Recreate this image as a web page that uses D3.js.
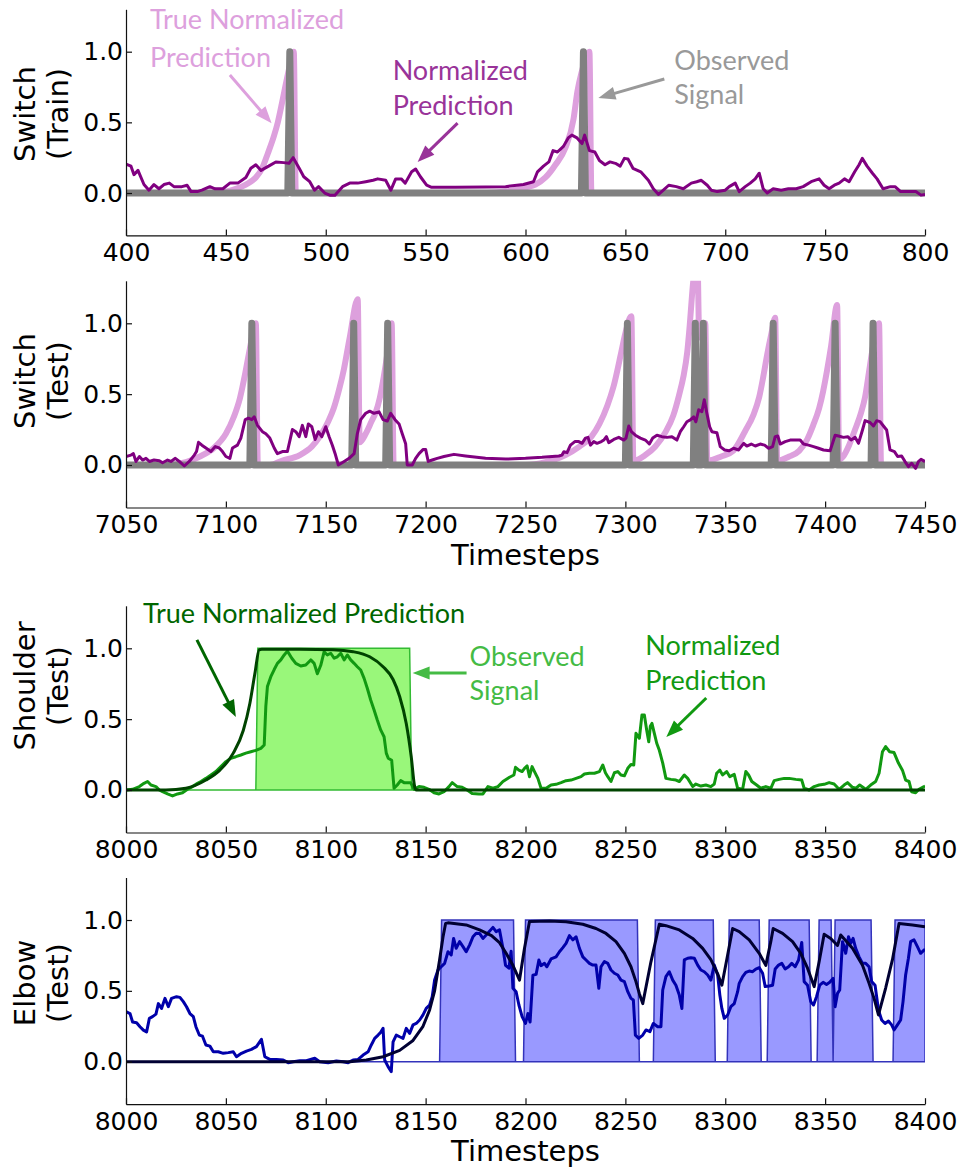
<!DOCTYPE html>
<html lang="en">
<head>
<meta charset="UTF-8">
<title>Switch / Shoulder / Elbow predictions</title>
<script src="https://d3js.org/d3.v7.min.js"></script>
<style>
  body { margin: 0; background: #fff; }
  svg { display: block; }
</style>
</head>
<body>
<svg id="chart" width="963" height="1169"></svg>
<script>
// ---- data ----
const yTicks = [0, 0.5, 1.0];
const trainTicks = [400, 450, 500, 550, 600, 650, 700, 750, 800];
const testTicks = [7050, 7100, 7150, 7200, 7250, 7300, 7350, 7400, 7450];
const armTicks = [8000, 8050, 8100, 8150, 8200, 8250, 8300, 8350, 8400];

// switch: timesteps where the observed signal fires
const trainSpikes = [482, 629];
const testSpikes = [7113, 7164, 7181, 7301, 7335, 7339, 7374, 7405, 7424];

const trainTrue = [[400,0],[440,0],[450,0.01],[455,0.03],[460,0.06],[465,0.11],[468,0.17],[471,0.28],[474,0.4],[476,0.5],[478,0.63],[480,0.77],[482,0.9],[484,1.0],[485,0],
  [580,0],[590,0.01],[600,0.04],[605,0.06],[610,0.11],[615,0.2],[620,0.32],[624,0.52],[626,0.72],[628,0.85],[630,0.94],[632,1.0],[633,0],[800,0]];

const trainPred = [[400,0.205],[402.5,0.19],[404,0.13],[406,0.16],[409,0.06],[411.5,0.02],[414,0.06],[416.5,0.03],[419,0.06],[421.7,0.07],[424,0.045],[428,0.045],[430.6,0.055],[432.6,0.01],[435.7,0.01],[438,0.02],[442,0.045],[444.6,0.03],[448.5,0.03],[452,0.07],[456,0.07],[460,0.11],[462.5,0.175],[465,0.2],[467.6,0.16],[471.4,0.19],[475,0.22],[479,0.215],[481.6,0.21],[483.7,0.25],[486.7,0.175],[489,0.115],[492,0.08],[494.4,0.02],[496.4,0.045],[499.5,0],[502,-0.015],[504.6,-0.015],[508.4,0.045],[512,0.07],[516,0.07],[520,0.08],[523.7,0.09],[526,0.1],[530,0.09],[532.6,0.02],[535,0.1],[537.8,0.1],[539.8,0.07],[543,0.15],[545,0.17],[547.4,0.115],[550.5,0.055],[553,0.04],[565,0.04],[580,0.042],[590,0.045],[599,0.06],[604,0.08],[606,0.15],[609,0.19],[611.7,0.22],[613.8,0.3],[616,0.29],[619,0.33],[621.4,0.39],[623.2,0.41],[625.8,0.39],[628.3,0.35],[629.6,0.41],[632,0.3],[634.7,0.29],[637,0.23],[639.8,0.2],[642.3,0.22],[645,0.21],[647.4,0.19],[649.5,0.245],[651.3,0.24],[653.8,0.175],[657.7,0.15],[661.5,0.09],[664,0.03],[666.6,-0.01],[669,0.02],[671.7,0.055],[675.5,0.045],[679,0.03],[683,0.07],[685.7,0.08],[688,0.09],[691,0.055],[693,0.02],[696,0.01],[700,0.02],[702,0.045],[705,0.07],[707,0.01],[710,0.045],[712.5,0.07],[715,0.1],[717,0.14],[719,0.03],[721,0],[724,0.03],[728,0.02],[731.6,0.03],[735.5,0.03],[739,0.045],[743,0.08],[747,0.1],[749.5,0.055],[752,0.03],[754.6,0.055],[757,0.07],[759.7,0.1],[762,0.08],[764.8,0.15],[767,0.2],[768.6,0.245],[771,0.19],[773.7,0.14],[776,0.1],[779,0.03],[782.7,0.045],[785,0.045],[787.8,0.01],[791.6,0.01],[795.4,0.01],[798,-0.015],[800,-0.01]];

const testTrue = [[7050,0],[7070,0],[7080,0.02],[7087,0.06],[7094,0.12],[7100,0.22],[7104,0.34],[7107,0.47],[7110,0.67],[7112,0.82],[7115,1.0],[7116,0],[7122,0],[7128,0.03],[7137,0.07],[7143,0.13],[7147,0.2],[7151,0.3],[7154,0.4],[7157,0.55],[7159,0.67],[7162,0.9],[7166,1.17],[7167,0.16],[7170,0.22],[7173,0.31],[7175,0.37],[7177,0.47],[7179,0.62],[7181,0.8],[7183,1.0],[7184,0],
  [7250,0],[7260,0.02],[7270,0.07],[7277,0.13],[7283,0.2],[7287,0.29],[7291,0.42],[7294,0.55],[7298,0.8],[7300,0.93],[7303,1.05],[7304,0.03],[7310,0.07],[7315,0.13],[7320,0.23],[7324,0.35],[7327,0.5],[7329,0.62],[7331,0.8],[7332,0.95],[7334,1.3],[7336,1.5],[7337,0.9],[7338,0.93],[7340,1.0],[7341,0.03],
  [7348,0.06],[7354,0.1],[7360,0.24],[7364,0.35],[7367,0.48],[7369,0.62],[7371,0.78],[7373,0.92],[7375,1.04],[7376,0.03],[7382,0.06],[7387,0.1],[7391,0.18],[7394,0.28],[7397,0.4],[7399,0.52],[7401,0.67],[7403,0.84],[7406,1.13],[7407,0.04],[7409,0.06],[7412,0.14],[7415,0.25],[7418,0.37],[7420,0.48],[7422,0.66],[7424,0.84],[7427,1.0],[7428,0],[7450,0]];

const testPred = [[7050,0.06],[7052.5,0.07],[7053.7,0.08],[7055,0.025],[7056.7,0.06],[7058.3,0.035],[7060,0.047],[7061.7,0.025],[7064,0.035],[7066.7,0.03],[7068.3,0.016],[7070.8,0.035],[7072.5,0.025],[7074.7,0.047],[7076.7,0.025],[7079.2,-0.007],[7081.7,0.025],[7084.2,0.07],[7085.3,0.095],[7086.3,0.16],[7088,0.14],[7090,0.12],[7092.5,0.095],[7094.7,0.13],[7096.7,0.12],[7098.3,0.095],[7100,0.06],[7102,0.047],[7103.3,0.12],[7105.8,0.14],[7107.5,0.19],[7109.7,0.32],[7111.3,0.33],[7113,0.32],[7114.2,0.34],[7115.8,0.28],[7118.3,0.235],[7120,0.22],[7122,0.19],[7124.2,0.12],[7125.8,0.08],[7128.3,0.095],[7130.8,0.095],[7133.3,0.25],[7135,0.235],[7136.7,0.2],[7138.3,0.28],[7140,0.2],[7141.3,0.29],[7143,0.27],[7144.7,0.18],[7146.3,0.235],[7148,0.2],[7150,0.27],[7151.7,0.2],[7153.3,0.14],[7154.7,0.08],[7156.3,0],[7159.2,0.025],[7161.7,0.047],[7164.2,0.08],[7165.8,0.22],[7167.5,0.32],[7170,0.365],[7172,0.38],[7174.2,0.365],[7176.7,0.375],[7178.7,0.32],[7180.8,0.31],[7182.5,0.365],[7184.7,0.32],[7186.7,0.29],[7188.3,0.22],[7190,0.15],[7190.8,0],[7193.3,0],[7195,0.047],[7196.7,0.08],[7198.8,0.11],[7200,0.11],[7201.3,0.025],[7203.3,0.035],[7205.8,0.047],[7209.2,0.06],[7214.2,0.075],[7220,0.064],[7230,0.047],[7240,0.042],[7250,0.047],[7258.3,0.054],[7266.7,0.064],[7268.3,0.07],[7269.2,0.094],[7270.8,0.087],[7272.5,0.14],[7274.7,0.165],[7276.7,0.165],[7278.3,0.153],[7280,0.19],[7281.3,0.195],[7282.5,0.14],[7284.2,0.165],[7285.8,0.153],[7288,0.165],[7289.2,0.176],[7290.5,0.2],[7291.7,0.158],[7294.2,0.18],[7296.7,0.195],[7299.2,0.176],[7300.3,0.19],[7301.7,0.275],[7303,0.235],[7305,0.21],[7307.5,0.19],[7310,0.176],[7312,0.148],[7313.7,0.19],[7315.8,0.21],[7318.3,0.2],[7320.8,0.195],[7323.3,0.2],[7325.8,0.176],[7327.5,0.235],[7329.2,0.27],[7330.8,0.305],[7332.5,0.318],[7334.2,0.34],[7335.3,0.305],[7336.7,0.39],[7338.3,0.376],[7339.5,0.46],[7340.8,0.365],[7342.2,0.27],[7343.3,0.235],[7345.8,0.228],[7347.5,0.13],[7349.7,0.106],[7352,0.1],[7354.2,0.118],[7356.7,0.106],[7359.2,0.153],[7360.8,0.134],[7363,0.148],[7365,0.134],[7367.5,0.148],[7369.7,0.14],[7371.7,0.118],[7373.7,0.13],[7375,0.2],[7376.3,0.205],[7377.5,0.148],[7380,0.165],[7382.5,0.176],[7385,0.176],[7387.5,0.176],[7389.2,0.148],[7391.7,0.14],[7394.2,0.13],[7396.7,0.118],[7399.2,0.106],[7402.5,0.1],[7405,0.21],[7406.7,0.205],[7409.2,0.195],[7411.3,0.2],[7413,0.176],[7415,0.195],[7416.7,0.153],[7418.7,0.247],[7420,0.313],[7422.5,0.3],[7424.2,0.275],[7425.8,0.313],[7427.5,0.306],[7429.2,0.275],[7430.8,0.247],[7432.5,0.106],[7434.7,0.094],[7436.3,0.06],[7438.3,0.064],[7440,0.024],[7441.7,-0.012],[7443.3,0.012],[7445.3,-0.024],[7446.7,0.024],[7448,0.04],[7450,0.024]];

// arm joints: [first, last] timestep where the observed signal is 1
const shoulderOn = [[8066, 8142]];
const elbowOn = [[8158,8194],[8200,8256],[8265,8294],[8302,8317],[8322,8342],[8347,8353],[8355,8373],[8385,8400]];

const shoulderTrue = [[8000,0],[8020,0],[8030,0.012],[8040,0.07],[8047,0.14],[8053.7,0.26],[8058.7,0.42],[8062,0.61],[8064.5,0.82],[8066.7,0.99],[8068,0.993],[8087,0.993],[8103.7,0.99],[8113.7,0.976],[8122,0.94],[8128.7,0.87],[8133.7,0.78],[8137,0.66],[8140.3,0.47],[8142.8,0.235],[8144.5,0.024],[8145.3,0],[8400,0]];

const shoulderPred = [[8000,0],[8003.3,0.005],[8006.7,0.024],[8009,0.047],[8010.8,0.06],[8012.5,0.035],[8015,0.024],[8016.7,0],[8018.3,-0.012],[8020.8,-0.028],[8023.3,-0.042],[8025.8,-0.028],[8028.3,-0.019],[8030.8,0.005],[8033.3,0.024],[8035.8,0.047],[8037.5,0.06],[8040,0.082],[8042.5,0.106],[8045,0.13],[8047.5,0.165],[8050,0.2],[8052.5,0.224],[8055,0.235],[8057.5,0.247],[8060,0.26],[8062.5,0.27],[8065,0.28],[8067.5,0.294],[8069.2,0.318],[8070,0.59],[8070.8,0.73],[8072.5,0.8],[8074.2,0.85],[8075.8,0.894],[8077.5,0.918],[8079.2,0.953],[8080.8,0.98],[8083,0.93],[8085,0.894],[8087.5,0.875],[8090,0.882],[8092.5,0.918],[8094.2,0.894],[8095.8,0.82],[8097.5,0.88],[8099.2,0.976],[8100.8,0.953],[8102.5,0.965],[8104.2,0.93],[8105.8,0.94],[8107.5,0.965],[8109.2,0.918],[8110.8,0.953],[8112.5,0.918],[8114.2,0.894],[8115.8,0.87],[8117.5,0.847],[8119.2,0.788],[8120.8,0.718],[8122.5,0.635],[8124.2,0.565],[8125.8,0.494],[8127.5,0.424],[8129.2,0.376],[8130.3,0.26],[8131.3,0.224],[8133,0.21],[8134.2,0.012],[8135.8,0.035],[8137.5,0.066],[8139.2,0.052],[8140.8,0.052],[8142.5,0.052],[8144.2,0.005],[8146.7,0.024],[8149.2,0.019],[8151.7,0.005],[8154.2,-0.019],[8156.7,-0.028],[8159.2,-0.012],[8161.7,0.024],[8163.3,0.052],[8165.8,0.024],[8168.3,0.019],[8170.8,0],[8173.3,-0.024],[8176.7,-0.028],[8178.7,-0.028],[8181.2,0.024],[8183.7,0.012],[8186.2,0.024],[8188.7,0.06],[8192,0.09],[8194.2,0.106],[8195,0.16],[8196.7,0.14],[8198.3,0.13],[8199.5,0.153],[8200.8,0.17],[8202,0.094],[8203.3,0.165],[8204.5,0.13],[8206.2,0.082],[8207.8,0.012],[8210.3,0.012],[8212.8,0.035],[8215.3,0.04],[8217.8,0.052],[8220.3,0.066],[8222.8,0.07],[8225.3,0.082],[8227.8,0.094],[8229.5,0.113],[8232,0.118],[8234.5,0.118],[8237,0.13],[8238.7,0.176],[8240,0.122],[8241.2,0.094],[8242.8,0.06],[8244.5,0.122],[8246.2,0.13],[8247.8,0.106],[8249.5,0.1],[8251.2,0.153],[8252.8,0.18],[8254.2,0.176],[8255.3,0.4],[8257,0.365],[8258.3,0.53],[8259.5,0.53],[8260.7,0.42],[8261.7,0.34],[8262.5,0.45],[8263.3,0.47],[8264.5,0.4],[8265.7,0.33],[8267,0.28],[8268.7,0.19],[8270.3,0.082],[8272.8,0.075],[8275.3,0.07],[8277,0.06],[8279.5,0.106],[8281.2,0.082],[8283.7,0.024],[8285.3,0.042],[8287.8,0.028],[8290.3,0.035],[8292.8,0.024],[8294.5,0.042],[8295.7,0.118],[8297.3,0.14],[8298.7,0.106],[8300.7,0.13],[8302.3,0.094],[8304.5,0.11],[8306.2,0.012],[8308.7,0.005],[8310.3,0.13],[8311.7,0.106],[8313.3,0.06],[8315.7,0.035],[8317.8,0.012],[8320.3,0.024],[8322.8,0.012],[8324.5,0.066],[8327,0.075],[8329.5,0.082],[8332,0.082],[8335.3,0.075],[8338.3,0.07],[8339.5,0.012],[8342,0],[8344.5,0.024],[8347,0.035],[8349.5,0.04],[8352,0.052],[8354.5,0.042],[8357,0.005],[8359.5,0.035],[8361.2,0.052],[8363.7,0.019],[8365.3,0.012],[8367.3,0.035],[8370.3,0.005],[8372.8,0.035],[8375.3,0.06],[8377,0.118],[8378.7,0.27],[8380.3,0.306],[8382.3,0.27],[8384.5,0.264],[8386.7,0.19],[8388.7,0.14],[8390.3,0.07],[8392,0.06],[8393.3,-0.012],[8395.3,-0.019],[8397,0.005],[8399.5,0.024],[8400,0.026]];

const elbowTrue = [[8000,0],[8112,0],[8120.3,0.012],[8128.7,0.035],[8137,0.08],[8143.7,0.15],[8148.7,0.25],[8152,0.365],[8154.5,0.5],[8157,0.72],[8158.7,0.88],[8160,0.976],[8161.2,0.98],[8170.3,0.965],[8177,0.93],[8183,0.89],[8187,0.84],[8190.3,0.765],[8193.7,0.68],[8197,0.576],[8199.5,0.8],[8202,0.99],[8212,0.993],[8220.3,0.988],[8228.7,0.97],[8235.3,0.94],[8240.3,0.905],[8245.3,0.847],[8249.5,0.765],[8252.8,0.67],[8255.3,0.565],[8257,0.48],[8258.7,0.41],[8262.8,0.705],[8267,0.97],[8270.3,0.96],[8277,0.93],[8283.7,0.87],[8288.7,0.8],[8292.8,0.72],[8296.2,0.62],[8298.3,0.54],[8301.2,0.753],[8303.7,0.94],[8307,0.918],[8312,0.86],[8317,0.765],[8320.3,0.68],[8322.8,0.847],[8324,0.94],[8328.7,0.906],[8333.7,0.847],[8337.8,0.765],[8341.2,0.66],[8344.5,0.53],[8347,0.705],[8349.5,0.9],[8352.8,0.87],[8356.2,0.82],[8357.8,0.894],[8363.7,0.8],[8368.7,0.68],[8372,0.553],[8374.5,0.447],[8376.7,0.33],[8380.3,0.52],[8383.7,0.72],[8387,0.976],[8393.7,0.965],[8400,0.952]];

const elbowPred = [[8000,0.353],[8002,0.34],[8003.3,0.28],[8005.3,0.275],[8007,0.247],[8008.7,0.223],[8010.3,0.21],[8011.7,0.306],[8013.3,0.318],[8015,0.336],[8016.2,0.41],[8017.8,0.376],[8019.5,0.447],[8021.2,0.388],[8022.8,0.447],[8025.3,0.459],[8027,0.454],[8028.7,0.424],[8030.3,0.388],[8032,0.34],[8033.7,0.318],[8035,0.247],[8036.7,0.188],[8038.3,0.18],[8040,0.118],[8042,0.11],[8043.7,0.07],[8046.2,0.07],[8048.7,0.059],[8051.2,0.064],[8053.7,0.07],[8055.3,0.035],[8057.8,0.059],[8060.3,0.075],[8062.8,0.087],[8065.3,0.106],[8067.8,0.158],[8069.5,0.035],[8072,0.016],[8075.3,0.016],[8078.7,0.012],[8081.2,-0.007],[8083.7,0],[8087,0.007],[8090.3,0.007],[8094.5,0.024],[8097,0],[8101.2,-0.007],[8105.3,0.005],[8108.7,0],[8111.2,-0.007],[8113.7,0.012],[8116.2,0.016],[8118.7,0.047],[8121.2,0.07],[8122.8,0.118],[8124.5,0.165],[8126.2,0.188],[8127.5,0.207],[8128.7,0.235],[8129.5,0.012],[8131.2,-0.035],[8132.8,-0.07],[8133.7,0.14],[8135.3,0.188],[8137,0.176],[8138.7,0.165],[8140.3,0.235],[8142,0.2],[8143.7,0.26],[8145.3,0.27],[8147,0.294],[8148.7,0.33],[8150.3,0.376],[8152,0.4],[8153.3,0.459],[8154.5,0.576],[8156.2,0.647],[8157.8,0.67],[8159.5,0.694],[8161.2,0.776],[8162.8,0.753],[8164,0.87],[8165.3,0.8],[8167,0.847],[8168.7,0.812],[8170.3,0.776],[8172,0.823],[8173.7,0.882],[8175.3,0.906],[8177,0.905],[8178.7,0.87],[8180.3,0.894],[8183.7,0.948],[8185.3,0.918],[8187,0.93],[8188.7,0.8],[8190,0.68],[8191.7,0.66],[8192.8,0.78],[8193.7,0.518],[8195.3,0.494],[8196.7,0.4],[8198.3,0.318],[8200,0.27],[8201.2,0.34],[8202.3,0.28],[8203.7,0.61],[8205.3,0.616],[8206.7,0.718],[8207.8,0.678],[8209.5,0.694],[8210.7,0.67],[8212.8,0.725],[8215.3,0.74],[8217,0.776],[8218.7,0.805],[8220.3,0.835],[8222,0.89],[8223.7,0.86],[8225.3,0.882],[8227,0.8],[8228.7,0.74],[8230.3,0.718],[8232,0.694],[8233.7,0.682],[8235.3,0.682],[8236.7,0.518],[8237.8,0.67],[8239.5,0.706],[8241.2,0.694],[8242.8,0.647],[8244.5,0.624],[8246.2,0.612],[8247.8,0.576],[8249.5,0.565],[8251.2,0.494],[8252.8,0.447],[8254,0.435],[8255,0.188],[8256.7,0.165],[8258.7,0.188],[8260.3,0.224],[8262.3,0.212],[8264,0.27],[8266.2,0.247],[8267.8,0.247],[8268.7,0.506],[8270.3,0.6],[8272,0.635],[8273.7,0.576],[8275.3,0.54],[8277,0.47],[8278.3,0.376],[8279.5,0.718],[8281.2,0.73],[8282.8,0.734],[8284.5,0.73],[8286.2,0.682],[8287.8,0.647],[8289.5,0.635],[8291.2,0.612],[8292.8,0.576],[8294.5,0.682],[8296.2,0.612],[8297.3,0.47],[8298.3,0.376],[8299.5,0.306],[8301.2,0.33],[8302.8,0.388],[8304.5,0.41],[8306.2,0.494],[8307,0.553],[8308.7,0.6],[8310.3,0.63],[8312,0.64],[8313.7,0.635],[8315.3,0.654],[8317,0.664],[8318.7,0.624],[8320,0.53],[8322,0.534],[8323.7,0.54],[8325,0.654],[8326.7,0.682],[8328.3,0.694],[8330,0.654],[8331.7,0.67],[8333.3,0.694],[8335,0.67],[8336.7,0.718],[8338.3,0.842],[8339.5,0.565],[8341.2,0.54],[8342.8,0.424],[8344.2,0.4],[8345.7,0.459],[8347.3,0.54],[8349,0.56],[8350.7,0.545],[8352.3,0.56],[8354,0.588],[8355,0.388],[8356.2,0.482],[8357.3,0.506],[8358.7,0.847],[8359.5,0.812],[8360.3,0.765],[8361.7,0.882],[8362.8,0.835],[8364,0.87],[8365.3,0.8],[8367,0.74],[8368.7,0.694],[8370.3,0.694],[8372,0.67],[8373.3,0.565],[8375,0.54],[8376.7,0.365],[8378.3,0.294],[8380,0.27],[8381.7,0.287],[8383.3,0.26],[8384.5,0.224],[8386.2,0.26],[8387.8,0.294],[8389,0.424],[8390.3,0.612],[8391.7,0.73],[8392.8,0.847],[8394.5,0.86],[8396.2,0.812],[8397.8,0.765],[8399.5,0.788],[8400,0.79]];

// ---- layout ----
const svg = d3.select("#chart");
const plotLeft = 126, plotRight = 925;
const tickFont = "'DejaVu Sans', sans-serif";
const noteFont = "Lato, 'Open Sans', sans-serif";

const panels = [
  { key: "train", kind: "switch", ticks: trainTicks, top: 9.3, bottom: 235.4,
    label: ["Switch", "(Train)"], labelY: 114, xTitle: false,
    spikes: trainSpikes, truth: trainTrue, pred: trainPred,
    colors: { truth: "#dda0dd", obs: "#808080", pred: "#800080" },
    notes: [
      { lines: [["True Normalized", 412, 1.158], ["Prediction", 412, 0.894]], color: "#dda0dd", arrow: [452, 0.835, 472.9, 0.493] },
      { lines: [["Normalized", 533.5, 0.80], ["Prediction", 533.5, 0.552]], color: "#993399", arrow: [566, 0.495, 546, 0.219] },
      { lines: [["Observed", 674.5, 0.87], ["Signal", 674.5, 0.63]], color: "#999999", arrow: [669.5, 0.807, 636.5, 0.672] }
    ] },
  { key: "test", kind: "switch", ticks: testTicks, top: 280.8, bottom: 507.5,
    label: ["Switch", "(Test)"], labelY: 381, xTitle: true,
    spikes: testSpikes, truth: testTrue, pred: testPred,
    colors: { truth: "#dda0dd", obs: "#808080", pred: "#800080" },
    notes: [] },
  { key: "shoulder", kind: "arm", ticks: armTicks, top: 605.8, bottom: 832.5,
    label: ["Shoulder", "(Test)"], labelY: 686, xTitle: false,
    on: shoulderOn, truth: shoulderTrue, pred: shoulderPred, truthCurve: d3.curveMonotoneX,
    colors: { fill: "#99f77a", edge: "#33bb33", truth: "#004400", pred: "#119911" },
    notes: [
      { lines: [["True Normalized Prediction", 8008.5, 1.178]], color: "#006600", arrow: [8035.5, 1.059, 8055, 0.515] },
      { lines: [["Observed", 8172, 0.875], ["Signal", 8172, 0.635]], color: "#44bb44", arrow: [8170.5, 0.826, 8143.5, 0.826] },
      { lines: [["Normalized", 8260, 0.953], ["Prediction", 8260, 0.706]], color: "#119911", arrow: [8290.5, 0.649, 8270.5, 0.374] }
    ] },
  { key: "elbow", kind: "arm", ticks: armTicks, top: 877.5, bottom: 1104.2,
    label: ["Elbow", "(Test)"], labelY: 983, xTitle: true,
    on: elbowOn, truth: elbowTrue, pred: elbowPred, truthCurve: d3.curveLinear,
    colors: { fill: "#9999ff", edge: "#3333bb", truth: "#000033", pred: "#0000aa" },
    notes: [] }
];

// observed switch signal: one-step spike per event
function spikeSeries(spikes, t0, t1) {
  const pts = [[t0, 0]];
  spikes.forEach(s => pts.push([s - 1, 0], [s, 1], [s + 1, 0]));
  pts.push([t1, 0]);
  return pts;
}
// observed joint signal: on between first and last step
function stepSeries(on, t0, t1) {
  const pts = [[t0, 0]];
  on.forEach(([a, b]) => {
    pts.push([a - 1, 0], [a, 1], [b, 1]);
    if (b < t1) pts.push([b + 1, 0]);
  });
  if (on[on.length - 1][1] < t1) pts.push([t1, 0]);
  return pts;
}

function drawArrow(g, x1, y1, x2, y2, color) {
  const dx = x2 - x1, dy = y2 - y1, L = Math.hypot(dx, dy);
  const ux = dx / L, uy = dy / L, hl = 17, hw = 6.5;
  const bx = x2 - ux * hl, by = y2 - uy * hl;
  g.append("line")
    .attr("x1", x1).attr("y1", y1).attr("x2", bx + ux * 2).attr("y2", by + uy * 2)
    .attr("stroke", color).attr("stroke-width", 3);
  g.append("path")
    .attr("d", `M${x2},${y2}L${bx - uy * hw},${by + ux * hw}L${bx + uy * hw},${by - ux * hw}Z`)
    .attr("fill", color);
}

panels.forEach(p => {
  const t0 = p.ticks[0], t1 = p.ticks[p.ticks.length - 1];
  const x = d3.scaleLinear().domain([t0, t1]).range([plotLeft, plotRight]);
  const y = d3.scaleLinear().domain([-0.3, 1.3]).range([p.bottom, p.top]);
  const line = d3.line().x(d => x(d[0])).y(d => y(d[1]));

  svg.append("clipPath").attr("id", "clip-" + p.key)
    .append("rect")
    .attr("x", plotLeft).attr("y", p.top)
    .attr("width", plotRight - plotLeft).attr("height", p.bottom - p.top);

  const plot = svg.append("g").attr("clip-path", `url(#clip-${p.key})`);

  if (p.kind === "switch") {
    plot.append("path").datum(p.truth)
      .attr("d", line.curve(d3.curveMonotoneX))
      .attr("fill", "none").attr("stroke", p.colors.truth).attr("stroke-width", 6)
      .attr("stroke-linejoin", "round");
    plot.append("path").datum(spikeSeries(p.spikes, t0, t1))
      .attr("d", line.curve(d3.curveLinear))
      .attr("fill", "none").attr("stroke", p.colors.obs).attr("stroke-width", 7)
      .attr("stroke-linejoin", "round");
    plot.append("path").datum(p.pred)
      .attr("d", line.curve(d3.curveLinear))
      .attr("fill", "none").attr("stroke", p.colors.pred).attr("stroke-width", 3)
      .attr("stroke-linejoin", "round");
  } else {
    const area = d3.area().x(d => x(d[0])).y0(y(0)).y1(d => y(d[1]));
    plot.append("path").datum(stepSeries(p.on, t0, t1))
      .attr("d", area)
      .attr("fill", p.colors.fill).attr("stroke", p.colors.edge).attr("stroke-width", 1.5);
    plot.append("path").datum(p.pred)
      .attr("d", line.curve(d3.curveLinear))
      .attr("fill", "none").attr("stroke", p.colors.pred).attr("stroke-width", 3)
      .attr("stroke-linejoin", "round");
    plot.append("path").datum(p.truth)
      .attr("d", line.curve(p.truthCurve))
      .attr("fill", "none").attr("stroke", p.colors.truth).attr("stroke-width", 3)
      .attr("stroke-linejoin", "round");
  }

  // axes: left and bottom spines, inward ticks
  const xAxis = d3.axisBottom(x).tickValues(p.ticks).tickFormat(d3.format("d"))
    .tickSizeInner(-6).tickSizeOuter(0).tickPadding(8);
  const yAxis = d3.axisLeft(y).tickValues(yTicks).tickFormat(d3.format(".1f"))
    .tickSizeInner(-6).tickSizeOuter(0).tickPadding(3);

  const gx = svg.append("g").attr("transform", `translate(0,${p.bottom})`).call(xAxis);
  const gy = svg.append("g").attr("transform", `translate(${plotLeft},0)`).call(yAxis);
  [gx, gy].forEach(a => {
    a.selectAll("path, line").attr("stroke", "#111").attr("stroke-width", 1.2);
    a.selectAll("text").attr("font-family", tickFont).attr("font-size", 25).attr("fill", "#000");
  });

  // y label, two lines rotated
  const lab = svg.append("text")
    .attr("transform", `translate(35,${p.labelY}) rotate(-90)`)
    .attr("text-anchor", "middle")
    .attr("font-family", tickFont).attr("font-size", 29).attr("fill", "#000");
  lab.selectAll("tspan").data(p.label).join("tspan")
    .attr("x", 0).attr("dy", (d, i) => i ? 33 : 0).text(d => d);

  if (p.xTitle) {
    svg.append("text")
      .attr("x", (plotLeft + plotRight) / 2).attr("y", p.bottom + 57)
      .attr("text-anchor", "middle")
      .attr("font-family", tickFont).attr("font-size", 29).attr("fill", "#000")
      .text("Timesteps");
  }

  // annotations
  const ng = svg.append("g");
  p.notes.forEach(n => {
    n.lines.forEach(([txt, t, v]) => {
      ng.append("text").attr("x", x(t)).attr("y", y(v))
        .attr("font-family", noteFont).attr("font-size", 27).attr("fill", n.color)
        .text(txt);
    });
    const [ta, va, tb, vb] = n.arrow;
    drawArrow(ng, x(ta), y(va), x(tb), y(vb), n.color);
  });
});
</script>
</body>
</html>
